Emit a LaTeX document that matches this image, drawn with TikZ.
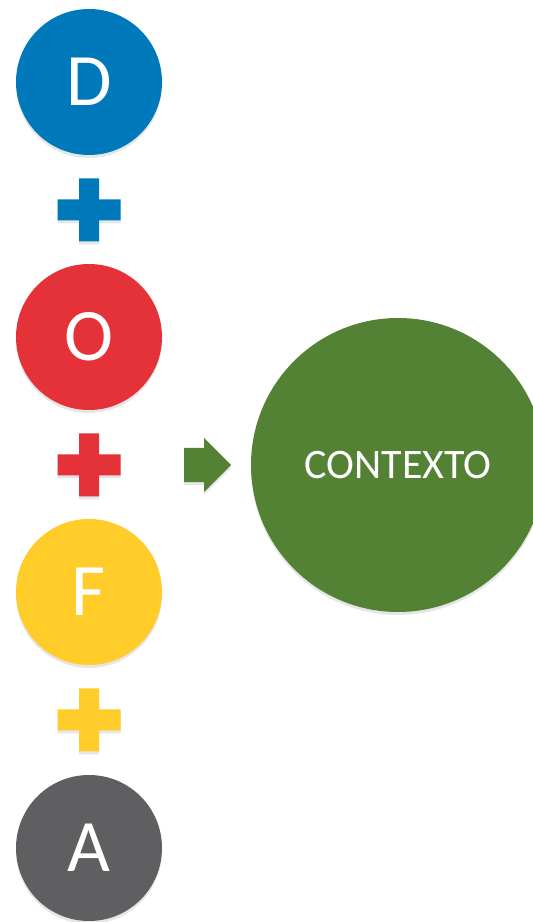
\documentclass[tikz,border=0pt]{standalone}
\usepackage{fontspec}
\setmainfont{Carlito}
\usetikzlibrary{shapes.arrows,shadows}

\definecolor{dblue}{RGB}{0,121,186}
\definecolor{ored}{RGB}{229,50,57}
\definecolor{fyellow}{RGB}{255,204,41}
\definecolor{agray}{RGB}{95,95,97}
\definecolor{cgreen}{RGB}{84,130,53}

\begin{document}
\begin{tikzpicture}[x=1pt,y=1pt,
  softshadow/.style={drop shadow={opacity=0.2,shadow xshift=0pt,shadow yshift=-3pt}},
  letter/.style={circle,draw=none,fill=#1,text=white,minimum size=146pt,inner sep=0pt,
    font=\fontsize{74}{74}\selectfont,softshadow},
  plussign/.pic={
    \fill[#1,softshadow]
      (-10,-31.5) -- (10,-31.5) -- (10,-10.5) -- (31.5,-10.5) -- (31.5,10.5) -- (10,10.5)
      -- (10,31.5) -- (-10,31.5) -- (-10,10.5) -- (-31.5,10.5) -- (-31.5,-10.5) -- (-10,-10.5) -- cycle;
  }]

\useasboundingbox (0,0) rectangle (533,922);

% Draw the letter circles
\node[letter=dblue] (D) at (89,840) {D};
\node[letter=ored] (O) at (89,585) {O};
\node[letter=fyellow] (F) at (89,330) {F};
\node[letter=agray] (A) at (89,74) {A};

% Draw the plus signs
\pic at (89,712) {plussign=dblue};
\pic at (89,457) {plussign=ored};
\pic at (89,202) {plussign=fyellow};

% Draw the arrow and the result
\node[single arrow,fill=cgreen,draw=none,minimum height=47pt,text height=17pt,text depth=17pt,
  single arrow head extend=10pt,single arrow tip angle=90,inner sep=0pt,softshadow,
  anchor=tail] (arrow) at (184,457) {};
\node[circle,fill=cgreen,text=white,minimum size=294pt,inner sep=0pt,
  font=\fontsize{42}{42}\selectfont,softshadow] (contexto) at (398,457) {CONTEXTO};

\end{tikzpicture}
\end{document}
